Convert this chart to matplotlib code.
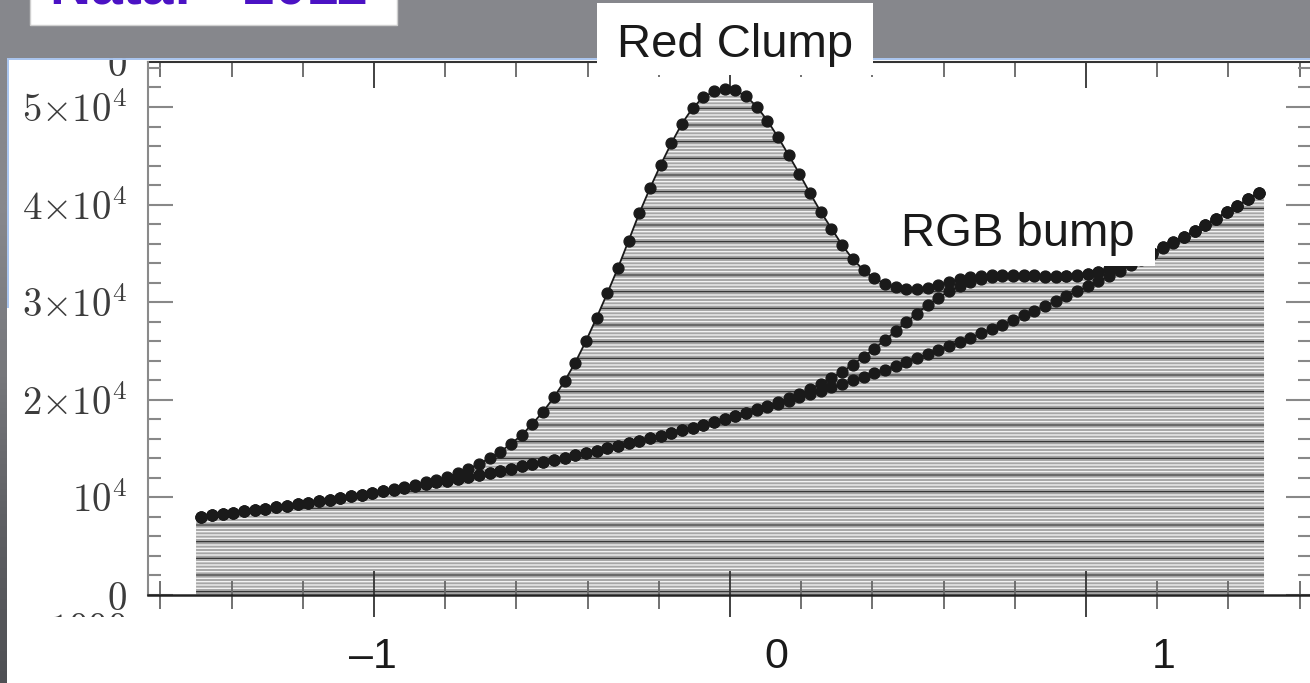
import numpy as np
import matplotlib
matplotlib.use("Agg")
import matplotlib.pyplot as plt
from matplotlib.patches import Rectangle
from matplotlib.colors import LinearSegmentedColormap
from matplotlib.ticker import MultipleLocator, FixedLocator, FixedFormatter

plt.rcParams['mathtext.fontset'] = 'cm'

# Histogram binning in magnitude offset from the red clump
bin_lo, bin_hi, n_bins = -1.5, 1.5, 100
edges = np.linspace(bin_lo, bin_hi, n_bins + 1)
centers = 0.5 * (edges[:-1] + edges[1:])

# Exponential red-giant-branch background (counts per bin)
rgb_background = [
    8020, 8150, 8290, 8430, 8570, 8710, 8860, 9000, 9150, 9310,
    9460, 9620, 9780, 9940, 10110, 10280, 10450, 10620, 10800, 10980,
    11160, 11350, 11540, 11730, 11930, 12120, 12330, 12530, 12740, 12950,
    13170, 13390, 13610, 13840, 14070, 14300, 14540, 14780, 15030, 15280,
    15540, 15790, 16060, 16330, 16600, 16870, 17160, 17440, 17730, 18030,
    18330, 18630, 18950, 19260, 19580, 19910, 20240, 20580, 20920, 21270,
    21620, 21980, 22350, 22720, 23100, 23490, 23880, 24280, 24680, 25090,
    25510, 25940, 26370, 26810, 27250, 27710, 28170, 28640, 29120, 29600,
    30100, 30600, 31110, 31630, 32150, 32690, 33230, 33790, 34350, 34920,
    35510, 36100, 36700, 37310, 37930, 38570, 39210, 39860, 40530, 41200,
]

# Background plus the RGB bump
rgb_with_bump = [
    8020, 8150, 8290, 8430, 8570, 8710, 8860, 9000, 9150, 9310,
    9460, 9620, 9780, 9940, 10110, 10280, 10450, 10620, 10800, 10980,
    11160, 11350, 11540, 11730, 11930, 12120, 12330, 12530, 12740, 12950,
    13170, 13390, 13610, 13840, 14070, 14300, 14540, 14780, 15030, 15280,
    15540, 15790, 16060, 16330, 16600, 16870, 17160, 17440, 17730, 18030,
    18330, 18670, 19020, 19370, 19750, 20160, 20610, 21100, 21630, 22230,
    22880, 23600, 24390, 25230, 26110, 27030, 27940, 28840, 29680, 30440,
    31110, 31670, 32100, 32410, 32600, 32710, 32730, 32700, 32660, 32610,
    32610, 32640, 32730, 32890, 33110, 33400, 33750, 34160, 34600, 35090,
    35620, 36170, 36700, 37310, 37930, 38570, 39210, 39860, 40530, 41200,
]

# Full model: background + RGB bump + red clump
total_model = [
    8020, 8150, 8290, 8430, 8570, 8710, 8860, 9000, 9150, 9310,
    9460, 9620, 9780, 9940, 10110, 10280, 10450, 10620, 10850, 11060,
    11280, 11530, 11800, 12110, 12470, 12900, 13450, 14000, 14690, 15500,
    16390, 17550, 18780, 20250, 21900, 23800, 26000, 28400, 30900, 33500,
    36300, 39110, 41670, 44060, 46280, 48300, 49900, 51000, 51600, 51850,
    51700, 51100, 50050, 48600, 46900, 45050, 43150, 41150, 39250, 37550,
    35850, 34400, 33300, 32450, 31900, 31550, 31350, 31350, 31500, 31760,
    32080, 32350, 32550, 32680, 32750, 32780, 32800, 32780, 32750, 32720,
    32700, 32700, 32750, 32900, 33120, 33400, 33750, 34160, 34600, 35090,
    35620, 36170, 36700, 37310, 37930, 38570, 39210, 39860, 40530, 41200,
]

y_tick_values = [0, 10000, 20000, 30000, 40000, 50000]
y_tick_labels = [r'$0$', r'$10^4$', r'$2{\times}10^4$', r'$3{\times}10^4$',
                 r'$4{\times}10^4$', r'$5{\times}10^4$']
x_tick_values = [-1, 0, 1]
x_tick_labels = ['\u20131', '0', '1']

W, H = 1310, 683
fig = plt.figure(figsize=(W / 100, H / 100), dpi=100, facecolor='white')


def px_rect(x0, y0, x1, y1):
    return [x0 / W, 1 - y1 / H, (x1 - x0) / W, (y1 - y0) / H]


ax = fig.add_axes(px_rect(148, 62, 1311, 595), zorder=1)
ax.set_xlim(-1.635, 1.632)
ax.set_ylim(0, 54610)
ax.set_facecolor('white')

# Shaded histogram with horizontal line shading
xs = np.r_[edges[0], centers, edges[-1]]
ys = np.r_[total_model[0], total_model, total_model[-1]]
plt.rcParams['hatch.linewidth'] = 1.0
ax.fill_between(xs, 0, ys, facecolor='#a6a6a6', edgecolor='#f2f2f2',
                hatch='-----', linewidth=0, zorder=1)
ax.fill_between(xs, 0, ys, facecolor='none', edgecolor='#383838',
                hatch='-', linewidth=0, zorder=1.1)

for vals in (rgb_background, rgb_with_bump, total_model):
    ax.plot(centers, vals, '-', color='#1a1a1a', lw=1.3, marker='o', ms=7.8,
            mfc='#1a1a1a', mec='#1a1a1a', zorder=3)

# Spines
ax.spines['left'].set_color('#8a8a8a')
ax.spines['left'].set_linewidth(1.5)
ax.spines['bottom'].set_color('#222222')
ax.spines['bottom'].set_linewidth(1.8)
ax.spines['top'].set_visible(False)
ax.spines['right'].set_visible(False)

# x ticks: bottom straddles the spine, top points inward
ax.xaxis.set_major_locator(FixedLocator(x_tick_values))
ax.xaxis.set_minor_locator(MultipleLocator(0.2))
ax.tick_params(axis='x', which='major', direction='inout', length=34, width=1.3,
               color='#333333', labelbottom=False, top=False)
ax.tick_params(axis='x', which='minor', direction='inout', length=20, width=1.3,
               color='#666666', top=False)
sec = ax.secondary_xaxis('top')
sec.xaxis.set_major_locator(FixedLocator(x_tick_values))
sec.xaxis.set_minor_locator(MultipleLocator(0.2))
sec.tick_params(which='major', direction='in', length=19, width=1.3,
                color='#333333', labeltop=False)
sec.tick_params(which='minor', direction='in', length=11, width=1.3,
                color='#666666')
sec.spines['top'].set_color('#333333')
sec.spines['top'].set_linewidth(1.5)

# y ticks on both sides, labels on the left
ax.yaxis.set_major_locator(FixedLocator(y_tick_values))
ax.yaxis.set_major_formatter(FixedFormatter(y_tick_labels))
ax.yaxis.set_minor_locator(MultipleLocator(2000))
ax.tick_params(axis='y', which='major', direction='in', length=18, width=1.5,
               color='#888888', left=True, right=True, pad=15,
               labelsize=28, labelcolor='#3c3c3c')
ax.tick_params(axis='y', which='minor', direction='in', length=9.4, width=1.5,
               color='#888888', left=True, right=True)

# Labels of the neighbouring panels, partly hidden
ax.annotate(r'$0$', xy=(0, 1), xycoords='axes fraction', xytext=(-15, -2),
            textcoords='offset points', ha='right', va='center',
            fontsize=28, color='#3c3c3c')
ax.annotate(r'$1000$', xy=(0, 0), xycoords='axes fraction', xytext=(-15, -25),
            textcoords='offset points', ha='right', va='center',
            fontsize=28, color='#3c3c3c')

# Slide layer on top
ov = fig.add_axes([0, 0, 1, 1], zorder=10)
ov.set_xlim(0, W)
ov.set_ylim(H, 0)
ov.axis('off')
ov.patch.set_alpha(0)

ov.add_patch(Rectangle((7, 617), W, H, facecolor='white', edgecolor='none', zorder=1))
ov.add_patch(Rectangle((0, 0), W, 58, facecolor='#86878c', edgecolor='none', zorder=1))
strip_cmap = LinearSegmentedColormap.from_list(
    'strip', ['#86878c', '#86878c', '#77787c', '#5e5f63', '#4f5054'])
ov.imshow(np.linspace(0, 1, 256)[:, None], cmap=strip_cmap, aspect='auto',
          extent=(0, 7, H, 58), interpolation='bilinear', zorder=1)
ov.plot([7, W], [58.5, 58.5], color='#a8c4ee', lw=1.4, solid_capstyle='butt', zorder=2)
ov.plot([7.5, 7.5], [58, 308], color='#a8c4ee', lw=1.4, solid_capstyle='butt', zorder=2)

sans = ['Liberation Sans', 'DejaVu Sans']
ov.add_patch(Rectangle((30, -2), 367, 27, facecolor='white', edgecolor='#cfcfcf',
                       lw=1, zorder=3))
ov.text(50, 4, 'Nataf - 2011', fontsize=41, fontweight='bold', color='#4b12c4',
        family=sans, ha='left', va='baseline', zorder=4)

ov.add_patch(Rectangle((597, 3), 276, 72, facecolor='white', edgecolor='none', zorder=3))
ov.text(735, 57, 'Red Clump', fontsize=34, color='#1a1a1a', family=sans,
        ha='center', va='baseline', zorder=4)
ov.add_patch(Rectangle((880, 203), 275, 63, facecolor='white', edgecolor='none', zorder=3))
ov.text(1018, 246, 'RGB bump', fontsize=34, color='#1a1a1a', family=sans,
        ha='center', va='baseline', zorder=4)

for lab, xc in zip(x_tick_labels, (373, 776, 1164)):
    ov.text(xc, 668, lab, fontsize=31, color='#1a1a1a', family=sans,
            ha='center', va='baseline', zorder=4)

ov.set_xlim(0, W)
ov.set_ylim(H, 0)

fig.savefig('out.png', dpi=100, facecolor='white')
